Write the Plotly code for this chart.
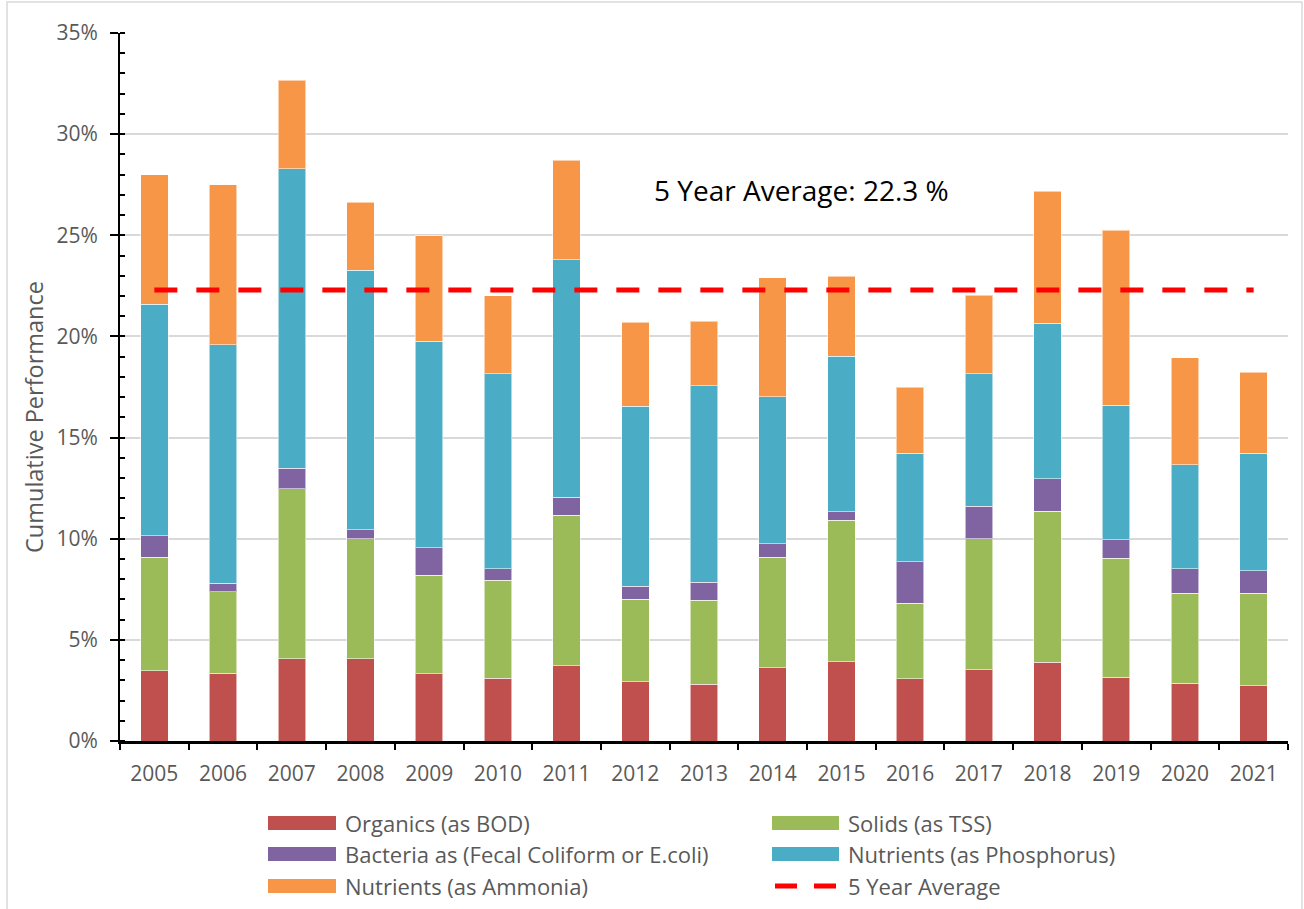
import plotly.graph_objects as go

# Data (percent of cumulative performance)
years = [str(y) for y in range(2005, 2022)]
organics_bod = [3.48, 3.36, 4.07, 4.07, 3.33, 3.11, 3.72, 2.93, 2.80, 3.62, 3.91, 3.08, 3.53, 3.89, 3.15, 2.85, 2.73]
solids_tss = [5.60, 4.01, 8.40, 5.92, 4.86, 4.83, 7.44, 4.07, 4.15, 5.46, 7.00, 3.73, 6.47, 7.48, 5.88, 4.45, 4.57]
bacteria = [1.07, 0.42, 1.01, 0.46, 1.37, 0.58, 0.89, 0.65, 0.89, 0.67, 0.43, 2.05, 1.60, 1.60, 0.92, 1.22, 1.12]
phosphorus = [11.44, 11.79, 14.80, 12.83, 10.21, 9.64, 11.74, 8.90, 9.73, 7.27, 7.68, 5.36, 6.56, 7.68, 6.64, 5.14, 5.80]
ammonia = [6.41, 7.91, 4.38, 3.35, 5.21, 3.85, 4.93, 4.15, 3.18, 5.87, 3.95, 3.26, 3.87, 6.52, 8.67, 5.29, 4.00]
five_year_avg = 22.3

series_names = [
    "Organics (as BOD)",
    "Solids (as TSS)",
    "Bacteria as (Fecal Coliform or E.coli)",
    "Nutrients (as Phosphorus)",
    "Nutrients (as Ammonia)",
]
series_values = [organics_bod, solids_tss, bacteria, phosphorus, ammonia]
series_colors = ["#C0504D", "#9BBB59", "#8064A2", "#4BACC6", "#F79646"]
avg_name = "5 Year Average"
avg_color = "#FF0000"

W, H = 1304, 909
ML, MR, MT, MB = 120, 16, 33, 168
PW, PH = W - ML - MR, H - MT - MB

FONT = "'Open Sans', Lato, sans-serif"
GREY_TEXT = "#595959"


def px_x(px):
    return (px - ML) / PW


def px_y(py):
    return (H - MB - py) / PH


fig = go.Figure()

for name, vals, col in zip(series_names, series_values, series_colors):
    fig.add_trace(go.Bar(
        x=years, y=vals, name=name,
        marker=dict(color=col, line=dict(color="rgba(255,255,255,0.55)", width=1)),
        showlegend=False,
    ))

fig.add_trace(go.Scatter(
    x=years, y=[five_year_avg] * len(years), name=avg_name, mode="lines",
    line=dict(color=avg_color, width=5, dash="23px,19px"),
    showlegend=False,
))

shapes = []
annotations = []

# outer frame of the chart area
shapes.append(dict(type="rect", xref="paper", yref="paper",
                   x0=px_x(7), x1=px_x(1302), y0=px_y(915), y1=px_y(2),
                   line=dict(color="#d9d9d9", width=1.5), fillcolor="rgba(0,0,0,0)", layer="below"))

# legend, two columns
legend_items = [(n, c, "bar") for n, c in zip(series_names, series_colors)] + [(avg_name, avg_color, "line")]
col_x = [(268, 336, 343), (772, 839, 846)]
row_y = [823, 854, 886]
for i, (name, col, kind) in enumerate(legend_items):
    cx0, cx1, tx = col_x[i % 2]
    ry = row_y[i // 2]
    if kind == "bar":
        shapes.append(dict(type="rect", xref="paper", yref="paper",
                           x0=px_x(cx0), x1=px_x(cx1), y0=px_y(ry + 7), y1=px_y(ry - 7),
                           fillcolor=col, line=dict(width=0)))
    else:
        shapes.append(dict(type="line", xref="paper", yref="paper",
                           x0=px_x(cx0 + 3), x1=px_x(cx1 - 3), y0=px_y(ry), y1=px_y(ry),
                           line=dict(color=col, width=5, dash="22px,17px")))
    annotations.append(dict(xref="paper", yref="paper", x=px_x(tx), y=px_y(ry),
                            text=name, showarrow=False, xanchor="left", yanchor="middle",
                            font=dict(family=FONT, size=22, color=GREY_TEXT)))

# average label
annotations.append(dict(xref="paper", yref="paper", x=px_x(802), y=px_y(190),
                        text=f"5 Year Average: {five_year_avg:.1f} %", showarrow=False,
                        xanchor="center", yanchor="middle",
                        font=dict(family=FONT, size=28, color="#000000")))

# y-axis title
annotations.append(dict(xref="paper", yref="paper", x=px_x(34), y=px_y(417),
                        text="Cumulative Performance", showarrow=False, textangle=-90,
                        xanchor="center", yanchor="middle",
                        font=dict(family=FONT, size=23.5, color=GREY_TEXT)))

fig.update_layout(
    width=W, height=H,
    margin=dict(l=ML, r=MR, t=MT, b=MB),
    barmode="stack", bargap=0.6,
    plot_bgcolor="white", paper_bgcolor="white",
    font=dict(family=FONT, color=GREY_TEXT),
    shapes=shapes, annotations=annotations,
    showlegend=False,
)

fig.update_xaxes(
    type="category", showline=True, linecolor="black", linewidth=2.5,
    ticks="outside", tickson="boundaries", ticklen=6, tickwidth=2, tickcolor="black",
    ticklabelstandoff=12,
    showgrid=False, tickfont=dict(family=FONT, size=21, color=GREY_TEXT),
)
fig.update_yaxes(
    range=[0, 35], dtick=5, ticksuffix="%", showline=True, linecolor="black", linewidth=2,
    ticks="outside", ticklen=8, tickwidth=2, tickcolor="black", ticklabelstandoff=8,
    showgrid=True, gridcolor="#d9d9d9", gridwidth=1.5, zeroline=False,
    minor=dict(dtick=1, ticks="inside", ticklen=5, tickwidth=2, tickcolor="black", showgrid=False),
    tickfont=dict(family=FONT, size=21, color=GREY_TEXT),
)

fig.write_html("out.html")
